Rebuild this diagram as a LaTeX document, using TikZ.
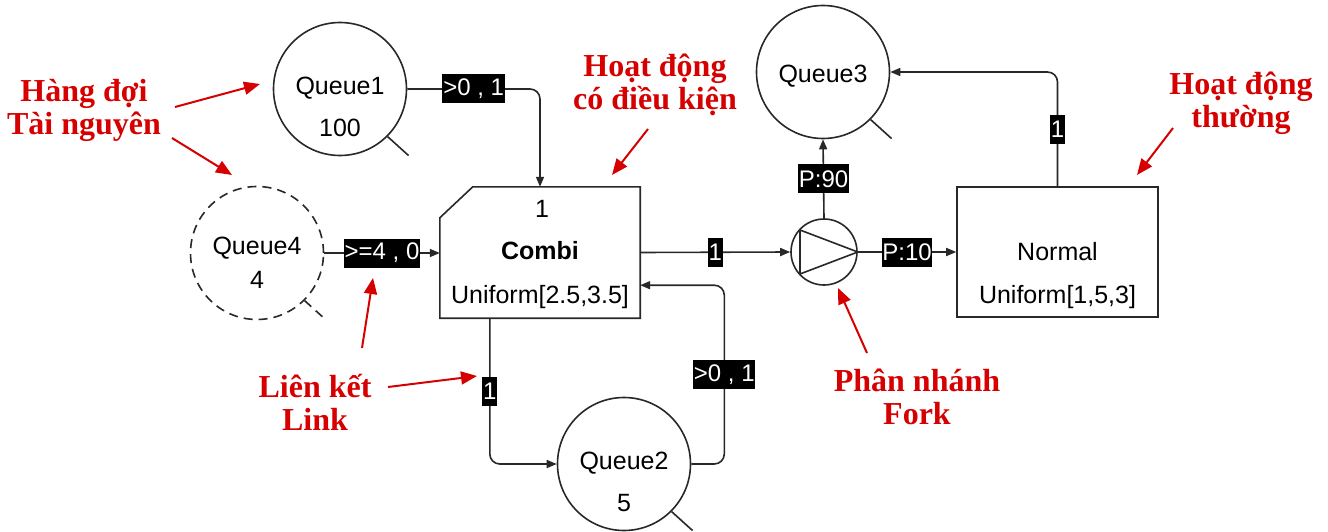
\documentclass[tikz,border=0pt]{standalone}
\usepackage{fontspec}
\setmainfont{Liberation Sans}
\newfontfamily\redfont{Liberation Serif}
\usetikzlibrary{arrows.meta,calc}
\definecolor{annred}{RGB}{214,0,0}
\definecolor{linegray}{RGB}{40,40,40}
\begin{document}
\begin{tikzpicture}[x=1pt,y=-1pt,
  queue/.style={circle,draw=linegray,line width=1.6pt,minimum size=133pt,inner sep=0pt},
  qtxt/.style={font=\fontsize{25}{27}\selectfont,inner sep=0pt},
  actbox/.style={rectangle,minimum width=200pt,minimum height=131pt,inner sep=0pt},
  lab/.style={sharp corners,fill=black,text=white,font=\fontsize{24}{26}\selectfont,inner xsep=0.8pt,inner ysep=0pt,minimum height=29pt},
  linkarrow/.style={draw=linegray,line width=1.6pt,rounded corners=10pt,-{Triangle[length=10pt,width=8pt]}},
  ann/.style={text=annred,font=\redfont\bfseries\fontsize{32}{33}\selectfont,align=center,anchor=base,inner sep=0pt},
  annarrow/.style={draw=annred,line width=2pt,-{Triangle[length=16pt,width=13pt]}},
  qtail/.style={draw=linegray,line width=1.6pt}
]
\path[fill=white,use as bounding box] (0,0) rectangle (1328,532);

% Queues
\node[queue] (q1) at (340,89) {};
\node[qtxt] (q1name) at (340,88) {Queue1};
\node[qtxt] (q1cap) at (340,128) {100};
\draw[qtail] (q1.-45) -- ++(21,19);

\node[queue,dash pattern=on 9pt off 6pt] (q4) at (257,253) {};
\node[qtxt] (q4name) at (257,248) {Queue4};
\node[qtxt] (q4cap) at (257,280) {4};
\draw[qtail,dash pattern=on 9pt off 6pt] (q4.-45) -- ++(21,19);

\node[queue] (q3) at (823,72) {};
\node[qtxt] (q3name) at (823,76) {Queue3};
\draw[qtail] (q3.-45) -- ++(21,19);

\node[queue] (q2) at (624,464) {};
\node[qtxt] (q2name) at (624,463) {Queue2};
\node[qtxt] (q2cap) at (624,503) {5};
\draw[qtail] (q2.-45) -- ++(21,19);

% Combi activity
\node[actbox] (combi) at (540,252.5) {};
\draw[draw=linegray,line width=1.6pt] (combi.south west) -- ($(combi.north west)+(0,31)$) -- ($(combi.north west)+(33,0)$) -- (combi.north east) -- (combi.south east) -- cycle;
\node[qtxt] (combinum) at (542,209) {1};
\node[qtxt,font=\bfseries\fontsize{25}{27}\selectfont] (combiname) at (540,251) {Combi};
\node[qtxt] (combidist) at (540,297) {Uniform[2.5,3.5]};

% Fork
\node[circle,draw=linegray,line width=1.6pt,minimum size=66pt,inner sep=0pt] (fork) at (824,252) {};
\draw[draw=linegray,line width=1.6pt] ($(fork.center)+(-24,-22)$) -- ($(fork.center)+(-24,22)$) -- (fork.east) -- cycle;

% Normal activity
\node[actbox,draw=linegray,line width=1.6pt,minimum width=201pt,minimum height=130pt] (normal) at (1057.5,252) {};
\node[qtxt] (normalname) at (1057.5,252) {Normal};
\node[qtxt] (normaldist) at (1057.5,297) {Uniform[1,5,3]};

% Links
\draw[linkarrow] (q1.east) -| node[lab,pos=0.25]{>0 , 1} (combi.north);
\draw[linkarrow] (q4.east) -- node[lab]{>=4 , 0} (q4.east -| combi.west);
\draw[linkarrow] (combi.east) -- node[lab]{1} (fork.west);
\draw[linkarrow] (fork.north) -- node[lab]{P:90} (q3.south);
\draw[linkarrow] (fork.east) -- node[lab]{P:10} (normal.west);
\draw[linkarrow] (normal.north) |- node[lab,pos=0.25]{1} (q3.east);
\coordinate (cout) at ($(combi.south west)+(50,0)$);
\draw[linkarrow] (cout) |- node[lab,pos=0.25]{1} (q2.west);
\coordinate (cin) at ($(combi.south east)+(0,-33)$);
\draw[linkarrow] (q2.east) -- ++(33,0) |- node[lab,pos=0.25]{>0 , 1} (cin);

% Annotations (anchor base = last line baseline)
\node[ann] (annq) at (84,135) {Hàng đợi\\Tài nguyên};
\node[ann] (annc) at (655,110) {Hoạt động\\có điều kiện};
\node[ann] (annn) at (1241,128) {Hoạt động\\thường};
\node[ann] (annl) at (315,430) {Liên kết\\Link};
\node[ann] (annf) at (917,424) {Phân nhánh\\Fork};

\coordinate (a1s) at (175,107); \coordinate (a1e) at (260,84);
\coordinate (a2s) at (172,138); \coordinate (a2e) at (232,175);
\coordinate (a3s) at (648,129); \coordinate (a3e) at (612,175);
\coordinate (a4s) at (1173,128); \coordinate (a4e) at (1137,175);
\coordinate (a5s) at (362,348); \coordinate (a5e) at (373,278);
\coordinate (a6s) at (388,387); \coordinate (a6e) at (477,376);
\coordinate (a7s) at (867,353); \coordinate (a7e) at (838,288);
\draw[annarrow] (a1s) -- (a1e);
\draw[annarrow] (a2s) -- (a2e);
\draw[annarrow] (a3s) -- (a3e);
\draw[annarrow] (a4s) -- (a4e);
\draw[annarrow] (a5s) -- (a5e);
\draw[annarrow] (a6s) -- (a6e);
\draw[annarrow] (a7s) -- (a7e);
\end{tikzpicture}
\end{document}
